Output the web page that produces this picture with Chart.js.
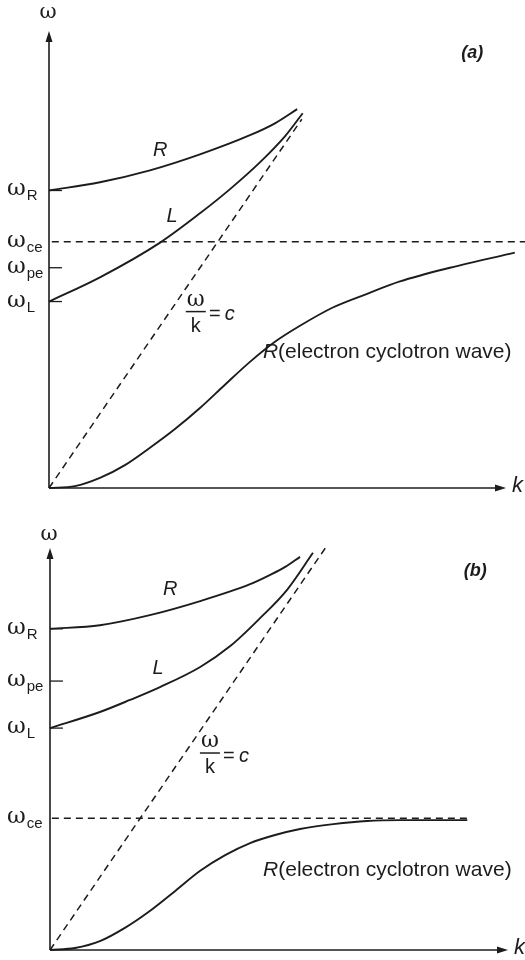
<!DOCTYPE html>
<html><head><meta charset="utf-8">
<script src="https://cdn.jsdelivr.net/npm/chart.js@4"></script>
<style>
html,body{margin:0;padding:0;background:#fff;width:525px;height:960px;overflow:hidden}
.p{position:absolute;left:0}
canvas{display:block}
</style></head><body>
<div class="p" style="top:0"><canvas id="ca" width="525" height="500"></canvas></div>
<div class="p" style="top:500px"><canvas id="cb" width="525" height="460"></canvas></div>
<script>
// ---------- Panel (a) data (arbitrary units: k horizontal, omega vertical) ----------
const aCut = {R: 6.51, ce: 5.39, pe: 4.82, L: 4.08};
const aRk = [0, 1.10, 2.18, 3.26, 4.34, 4.88, 5.36];
const aRw = [6.51, 6.69, 6.95, 7.30, 7.72, 7.98, 8.29];
const aLk = [0, 1.10, 2.40, 3.26, 3.91, 4.56, 5.10, 5.48];
const aLw = [4.08, 4.61, 5.37, 6.01, 6.54, 7.13, 7.70, 8.20];
const aEk = [0, 0.56, 1.10, 1.64, 2.18, 2.72, 3.26, 3.80, 4.34, 4.88, 5.42, 6.13, 6.87, 7.58, 8.66, 10.06];
const aEw = [0, 0.04, 0.22, 0.50, 0.88, 1.29, 1.75, 2.26, 2.76, 3.20, 3.55, 3.95, 4.25, 4.52, 4.82, 5.15];
const aLightK = [0, 5.46];
const aLightW = [0, 8.07];
const aCeK = [0.06, 10.28];

// ---------- Panel (b) data ----------
const bCut = {R: 7.99, pe: 6.69, L: 5.52, ce: 3.28};
const bRk = [0, 1.08, 2.16, 3.25, 4.33, 4.76, 5.09, 5.41];
const bRw = [7.99, 8.08, 8.33, 8.68, 9.10, 9.33, 9.53, 9.78];
const bLk = [0, 1.08, 1.73, 2.38, 3.25, 3.90, 4.55, 5.13, 5.69];
const bLw = [5.52, 5.92, 6.22, 6.54, 7.04, 7.56, 8.26, 8.96, 9.88];
const bEk = [0, 0.54, 1.08, 1.62, 2.16, 2.71, 3.25, 3.79, 4.33, 4.87, 5.41, 6.13, 6.86, 7.58, 9.03];
const bEw = [0, 0.05, 0.22, 0.55, 0.97, 1.47, 1.97, 2.36, 2.66, 2.86, 3.01, 3.13, 3.21, 3.23, 3.23];
const bLightK = [0, 5.97];
const bLightW = [0, 10.02];
const bCeK = [0.04, 9.09];

const INK = '#1c1c1c';
const zip = (ks, ws) => ks.map((k, i) => ({x: k, y: ws[i]}));

function curve(ks, ws) {
  return {data: zip(ks, ws), borderColor: INK, borderWidth: 1.9, pointRadius: 0,
          showLine: true, cubicInterpolationMode: 'monotone', clip: false, fill: false};
}
function dashed(ks, ws) {
  return {data: zip(ks, ws), borderColor: INK, borderWidth: 1.5, borderDash: [7, 5],
          pointRadius: 0, showLine: true, tension: 0, clip: false, fill: false};
}
function tick(w) {
  return {data: [{x: 0, y: w}, {x: 0.28, y: w}], borderColor: INK, borderWidth: 1.3,
          pointRadius: 0, showLine: true, tension: 0, clip: false};
}

const SERIF = "'DejaVu Serif'";
const SANS = "'Liberation Sans'";

function makePlugin(cfg) {
  return {
    id: 'deco' + cfg.name,
    afterDraw(chart) {
      const ctx = chart.ctx, xs = chart.scales.x, ys = chart.scales.y, ca = chart.chartArea;
      const px = v => xs.getPixelForValue(v), py = v => ys.getPixelForValue(v);
      ctx.save();
      ctx.strokeStyle = INK; ctx.fillStyle = INK; ctx.lineWidth = 1.6;
      // axes
      const ox = ca.left, oy = ca.bottom;
      ctx.beginPath(); ctx.moveTo(ox, oy); ctx.lineTo(ox, ca.top + 6); ctx.stroke();
      ctx.beginPath(); ctx.moveTo(ox, oy); ctx.lineTo(ca.right - 6, oy); ctx.stroke();
      // arrowheads
      ctx.beginPath(); ctx.moveTo(ox, ca.top); ctx.lineTo(ox - 3.5, ca.top + 11); ctx.lineTo(ox + 3.5, ca.top + 11); ctx.closePath(); ctx.fill();
      ctx.beginPath(); ctx.moveTo(ca.right, oy); ctx.lineTo(ca.right - 11, oy - 3.5); ctx.lineTo(ca.right - 11, oy + 3.5); ctx.closePath(); ctx.fill();
      // axis titles
      ctx.textAlign = 'center'; ctx.textBaseline = 'middle';
      ctx.font = "21px " + SERIF;
      ctx.fillText('\u03c9', ox - 1, ca.top - cfg.wTop);
      ctx.font = "italic 22px " + SANS;
      ctx.textAlign = 'left';
      ctx.fillText('k', ca.right + 6, oy - 2);
      // y labels
      cfg.cuts.forEach(c => {
        const y = py(c.w);
        ctx.textAlign = 'left'; ctx.textBaseline = 'alphabetic';
        ctx.font = "23px " + SERIF;
        ctx.fillText('\u03c9', 7, y + 5);
        const w = ctx.measureText('\u03c9').width;
        ctx.font = "15px " + SANS;
        ctx.fillText(c.sub, 7 + w + 1, y + 10);
      });
      // curve labels
      ctx.textBaseline = 'middle'; ctx.textAlign = 'center';
      ctx.font = "italic 20px " + SANS;
      ctx.fillText('R', px(cfg.rLab[0]), py(cfg.rLab[1]));
      ctx.fillText('L', px(cfg.lLab[0]), py(cfg.lLab[1]));
      // electron cyclotron label
      ctx.textAlign = 'left';
      let ex = px(cfg.eLab[0]), ey = py(cfg.eLab[1]);
      ctx.font = "italic 21px " + SANS;
      ctx.fillText('R', ex, ey);
      ex += ctx.measureText('R').width;
      ctx.font = "21px " + SANS;
      ctx.fillText('(electron cyclotron wave)', ex, ey);
      // fraction omega/k = c
      const fx = px(cfg.frac[0]), fy = py(cfg.frac[1]);
      ctx.lineWidth = 1.5;
      ctx.beginPath(); ctx.moveTo(fx - 10, fy); ctx.lineTo(fx + 10, fy); ctx.stroke();
      ctx.textAlign = 'center'; ctx.textBaseline = 'alphabetic';
      ctx.font = "22px " + SERIF;
      ctx.fillText('\u03c9', fx, fy - 6);
      ctx.font = "20px " + SANS;
      ctx.fillText('k', fx, fy + 20);
      ctx.textBaseline = 'middle';
      ctx.fillText('=', fx + 19, fy + 3);
      ctx.font = "italic 20px " + SANS;
      ctx.fillText('c', fx + 34, fy + 3);
      // panel tag
      ctx.font = "italic bold 18px " + SANS;
      ctx.fillText(cfg.tag, px(cfg.tagPos[0]), py(cfg.tagPos[1]));
      ctx.restore();
    }
  };
}

function build(id, datasets, xMax, pad, plugin) {
  new Chart(document.getElementById(id), {
    type: 'scatter',
    data: {datasets},
    options: {
      responsive: false, animation: false, devicePixelRatio: 1,
      layout: {padding: pad},
      plugins: {legend: {display: false}, tooltip: {enabled: false}},
      scales: {
        x: {type: 'linear', display: false, min: 0, max: xMax},
        y: {type: 'linear', display: false, min: 0, max: 10}
      }
    },
    plugins: [plugin]
  });
}

build('ca', [
  curve(aRk, aRw), curve(aLk, aLw), curve(aEk, aEw),
  dashed(aLightK, aLightW), dashed(aCeK, [aCut.ce, aCut.ce]),
  tick(aCut.R), tick(aCut.pe), tick(aCut.L)
], 9.87, {left: 49, top: 31, right: 19, bottom: 12}, makePlugin({
  name: 'a', wTop: 18,
  cuts: [{w: aCut.R, sub: 'R'}, {w: aCut.ce, sub: 'ce'}, {w: aCut.pe, sub: 'pe'}, {w: aCut.L, sub: 'L'}],
  rLab: [2.40, 7.39], lLab: [2.66, 5.94], eLab: [4.62, 2.98], frac: [3.17, 3.86],
  tag: '(a)', tagPos: [9.14, 9.52]
}));

build('cb', [
  curve(bRk, bRw), curve(bLk, bLw), curve(bEk, bEw),
  dashed(bLightK, bLightW), dashed(bCeK, [bCut.ce, bCut.ce]),
  tick(bCut.R), tick(bCut.pe), tick(bCut.L)
], 9.91, {left: 50, top: 48, right: 17, bottom: 10}, makePlugin({
  name: 'b', wTop: 13,
  cuts: [{w: bCut.R, sub: 'R'}, {w: bCut.pe, sub: 'pe'}, {w: bCut.L, sub: 'L'}, {w: bCut.ce, sub: 'ce'}],
  rLab: [2.60, 8.96], lLab: [2.34, 7.01], eLab: [4.61, 1.99], frac: [3.46, 4.90],
  tag: '(b)', tagPos: [9.20, 9.43]
}));
</script>
</body></html>
